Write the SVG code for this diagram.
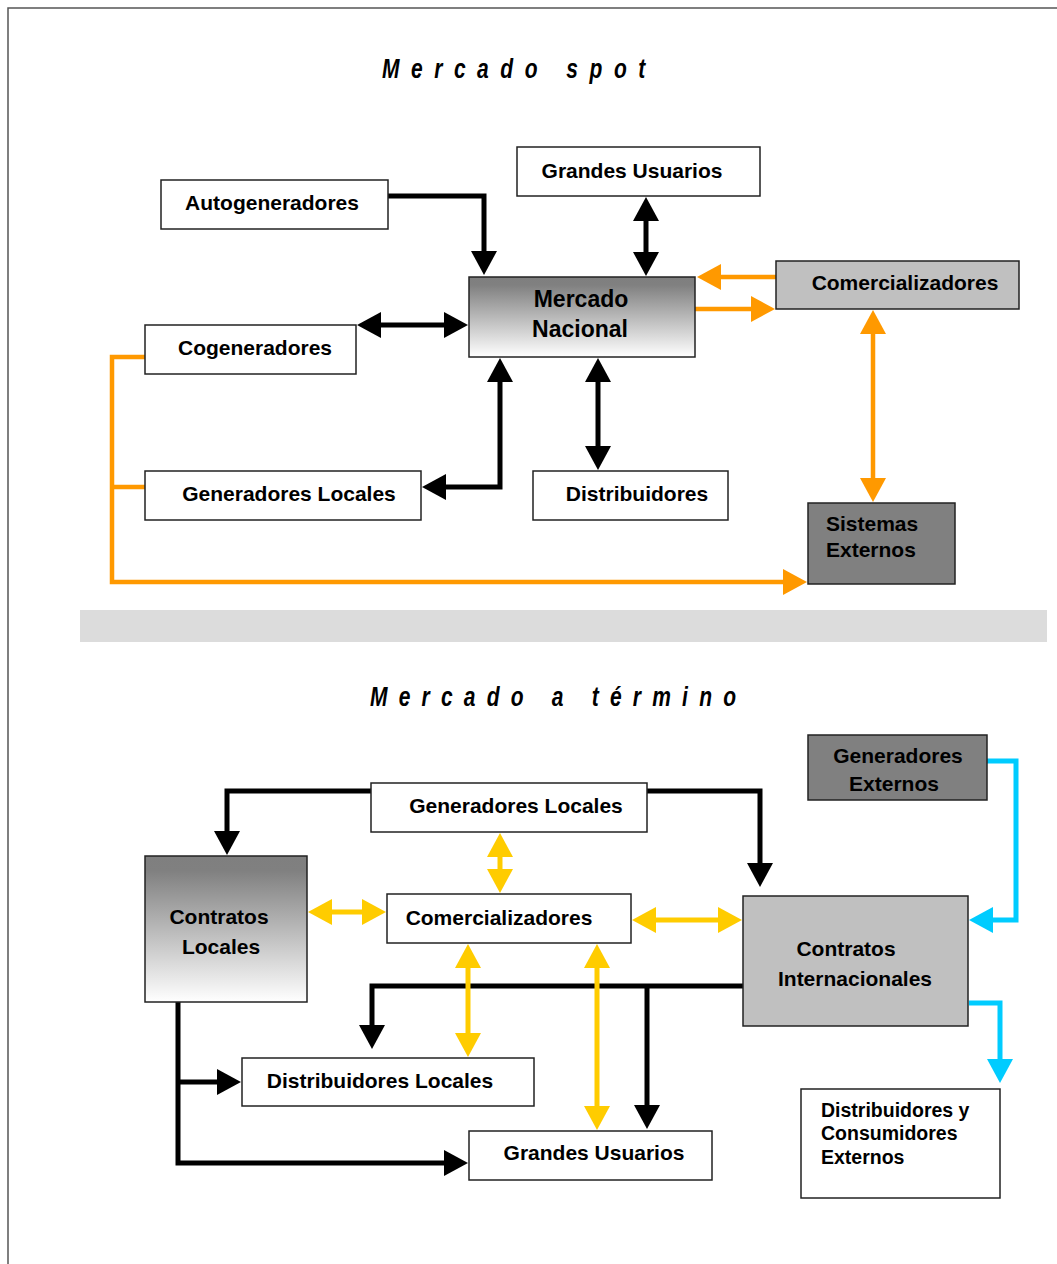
<svg xmlns="http://www.w3.org/2000/svg" width="1057" height="1264" viewBox="0 0 1057 1264">
<style>
.box{stroke:#222;stroke-width:1.5}
.w{fill:#fff}
.lg{fill:#c0c0c0}
.dg{fill:#808080}
.t{font-family:"Liberation Sans",Arial,sans-serif;font-weight:bold;font-size:21px;fill:#000}
.c{text-anchor:middle}
.title{font-family:"Liberation Sans",Arial,sans-serif;font-weight:bold;font-style:italic;font-size:28px;fill:#000}
.cn{fill:none;stroke-linejoin:miter;stroke-linecap:butt}
.k{stroke:#000;stroke-width:5}
.o{stroke:#ff9900;stroke-width:4.5}
.y{stroke:#ffcc00;stroke-width:5}
.cy{stroke:#00ccff;stroke-width:5}
</style>
<defs>
<linearGradient id="grad" x1="0" y1="0" x2="0" y2="1">
<stop offset="0" stop-color="#7f7f7f"/>
<stop offset="0.1" stop-color="#808080"/>
<stop offset="1" stop-color="#ffffff"/>
</linearGradient>
<marker id="ak" viewBox="0 0 24 26" markerUnits="userSpaceOnUse" markerWidth="24" markerHeight="26" refX="18" refY="13" orient="auto-start-reverse"><path d="M0,0 L24,13 L0,26 z" fill="#000"/></marker>
<marker id="ao" viewBox="0 0 24 26" markerUnits="userSpaceOnUse" markerWidth="24" markerHeight="26" refX="18" refY="13" orient="auto-start-reverse"><path d="M0,0 L24,13 L0,26 z" fill="#ff9900"/></marker>
<marker id="ay" viewBox="0 0 24 26" markerUnits="userSpaceOnUse" markerWidth="24" markerHeight="26" refX="18" refY="13" orient="auto-start-reverse"><path d="M0,0 L24,13 L0,26 z" fill="#ffcc00"/></marker>
<marker id="ac" viewBox="0 0 24 26" markerUnits="userSpaceOnUse" markerWidth="24" markerHeight="26" refX="18" refY="13" orient="auto-start-reverse"><path d="M0,0 L24,13 L0,26 z" fill="#00ccff"/></marker>
</defs>
<rect x="0" y="0" width="1057" height="1264" fill="#fff"/>
<path d="M8,1264 V8 H1057" fill="none" stroke="#555" stroke-width="1.5"/>
<rect x="80" y="610" width="967" height="32" fill="#dcdcdc"/>
<text class="title" transform="translate(382 78) scale(0.75 1)" x="0" y="0" textLength="351" lengthAdjust="spacing">Mercado spot</text>
<text class="title" transform="translate(370 706) scale(0.75 1)" x="0" y="0" textLength="488" lengthAdjust="spacing">Mercado a término</text>

<g id="connectors">
<path class="cn k" d="M388,196 H484 V269" marker-end="url(#ak)"/>
<path class="cn k" d="M646,203 V270" marker-start="url(#ak)" marker-end="url(#ak)"/>
<path class="cn k" d="M363,325 H462" marker-start="url(#ak)" marker-end="url(#ak)"/>
<path class="cn k" d="M428,487 H500 V364" marker-start="url(#ak)" marker-end="url(#ak)"/>
<path class="cn k" d="M598,364 V464" marker-start="url(#ak)" marker-end="url(#ak)"/>
<path class="cn o" d="M776,277 H703" marker-end="url(#ao)"/>
<path class="cn o" d="M695,309 H769" marker-end="url(#ao)"/>
<path class="cn o" d="M873,316 V496" marker-start="url(#ao)" marker-end="url(#ao)"/>
<path class="cn o" d="M145,357 H112 V582 H801" marker-end="url(#ao)"/>
<path class="cn o" d="M112,487 H145"/>
<path class="cn k" d="M371,791 H227 V849" marker-end="url(#ak)"/>
<path class="cn k" d="M647,791 H760 V881" marker-end="url(#ak)"/>
<path class="cn k" d="M743,986 H372 V1043" marker-end="url(#ak)"/>
<path class="cn k" d="M647,986 V1123" marker-end="url(#ak)"/>
<path class="cn k" d="M178,1002 V1163 H462" marker-end="url(#ak)"/>
<path class="cn k" d="M178,1082 H235" marker-end="url(#ak)"/>
<path class="cn y" d="M500,839 V887" marker-start="url(#ay)" marker-end="url(#ay)"/>
<path class="cn y" d="M314,912 H380" marker-start="url(#ay)" marker-end="url(#ay)"/>
<path class="cn y" d="M638,920 H736" marker-start="url(#ay)" marker-end="url(#ay)"/>
<path class="cn y" d="M468,950 V1051" marker-start="url(#ay)" marker-end="url(#ay)"/>
<path class="cn y" d="M597,950 V1124" marker-start="url(#ay)" marker-end="url(#ay)"/>
<path class="cn cy" d="M987,761 H1016 V920 H975" marker-end="url(#ac)"/>
<path class="cn cy" d="M969,1003 H1000 V1077" marker-end="url(#ac)"/>
</g>

<g id="autogeneradores"><rect class="box w" x="161" y="180" width="227" height="49"/><text class="t c" x="272" y="210">Autogeneradores</text></g>
<g id="grandes-usuarios-spot"><rect class="box w" x="517" y="147" width="243" height="49"/><text class="t c" x="632" y="178">Grandes Usuarios</text></g>
<g id="mercado-nacional"><rect class="box" fill="url(#grad)" x="469" y="277" width="226" height="80"/><text class="t c" style="font-size:23px" x="581" y="307">Mercado</text><text class="t c" style="font-size:23px" x="580" y="337">Nacional</text></g>
<g id="comercializadores-spot"><rect class="box lg" x="776" y="261" width="243" height="48"/><text class="t c" x="905" y="290">Comercializadores</text></g>
<g id="cogeneradores"><rect class="box w" x="145" y="325" width="211" height="49"/><text class="t c" x="255" y="355">Cogeneradores</text></g>
<g id="generadores-locales-spot"><rect class="box w" x="145" y="471" width="276" height="49"/><text class="t c" x="289" y="501">Generadores Locales</text></g>
<g id="distribuidores"><rect class="box w" x="533" y="471" width="195" height="49"/><text class="t c" x="637" y="501">Distribuidores</text></g>
<g id="sistemas-externos"><rect class="box dg" x="808" y="503" width="147" height="81"/><text class="t" x="826" y="531">Sistemas</text><text class="t" x="826" y="557">Externos</text></g>

<g id="generadores-locales"><rect class="box w" x="371" y="783" width="276" height="49"/><text class="t c" x="516" y="813">Generadores Locales</text></g>
<g id="generadores-externos"><rect class="box dg" x="808" y="735" width="179" height="65"/><text class="t c" x="898" y="763">Generadores</text><text class="t c" x="894" y="791">Externos</text></g>
<g id="contratos-locales"><rect class="box" fill="url(#grad)" x="145" y="856" width="162" height="146"/><text class="t c" x="219" y="924">Contratos</text><text class="t c" x="221" y="954">Locales</text></g>
<g id="comercializadores"><rect class="box w" x="387" y="894" width="244" height="49"/><text class="t c" x="499" y="925">Comercializadores</text></g>
<g id="contratos-internacionales"><rect class="box lg" x="743" y="896" width="225" height="130"/><text class="t c" x="846" y="956">Contratos</text><text class="t c" x="855" y="986">Internacionales</text></g>
<g id="distribuidores-locales"><rect class="box w" x="242" y="1058" width="292" height="48"/><text class="t c" x="380" y="1088">Distribuidores Locales</text></g>
<g id="grandes-usuarios"><rect class="box w" x="469" y="1131" width="243" height="49"/><text class="t c" x="594" y="1160">Grandes Usuarios</text></g>
<g id="distribuidores-consumidores-externos"><rect class="box w" x="801" y="1089" width="199" height="109"/><text class="t" style="font-size:19.5px" x="821" y="1117">Distribuidores y</text><text class="t" style="font-size:19.5px" x="821" y="1140">Consumidores</text><text class="t" style="font-size:19.5px" x="821" y="1164">Externos</text></g>
</svg>
